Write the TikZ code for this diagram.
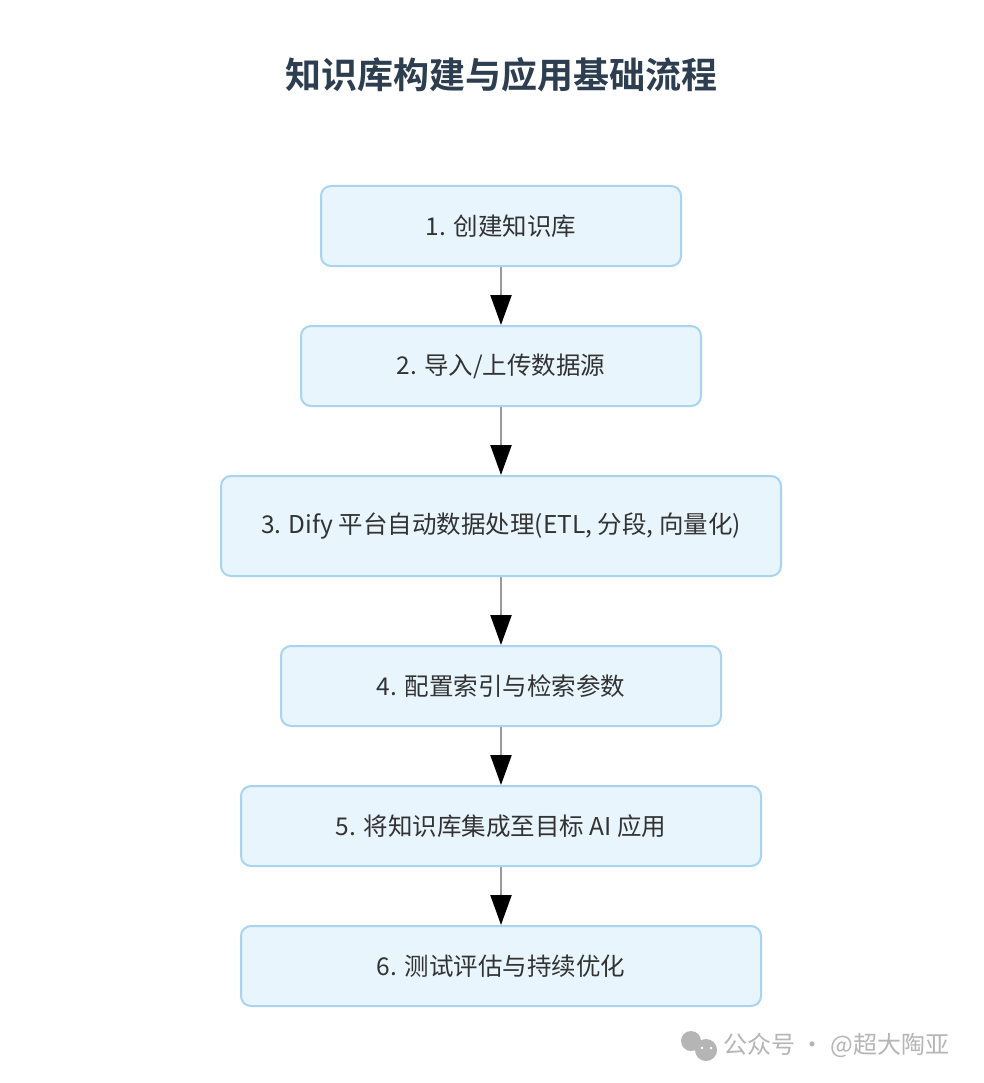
\documentclass[tikz,border=0pt]{standalone}
\usepackage{fontspec}
\setmainfont{Noto Sans CJK SC}
\newfontfamily\cjk{Noto Sans CJK SC}
\newfontfamily\cjkbold{Noto Sans CJK SC Bold}
\usetikzlibrary{arrows.meta}
\definecolor{boxfill}{HTML}{E8F5FD}
\definecolor{boxline}{HTML}{A8D4EF}
\definecolor{titlecol}{HTML}{2C3E50}
\definecolor{textcol}{HTML}{333333}
\definecolor{linkcol}{HTML}{999999}
\definecolor{wmcol}{HTML}{B5B5B5}
\tikzset{
  stepbox/.style={draw=boxline, fill=boxfill, line width=2pt, rounded corners=10pt,
    text=textcol, font=\cjk\fontsize{24.5}{28}\selectfont, inner sep=0pt, anchor=north},
  link/.style={draw=linkcol, line width=2.2pt,
    -{Triangle[length=30pt,width=21pt,color=black,fill=black]}, shorten >=0pt},
}
\begin{document}
\begin{tikzpicture}[x=1pt,y=-1pt]
\useasboundingbox[fill=white] (0,0) rectangle (983,1083);
\node[font=\cjkbold\fontsize{36}{42}\selectfont, text=titlecol] (title) at (501,75) {知识库构建与应用基础流程};

\node[stepbox, minimum width=360pt, minimum height=80pt] (s1) at (501,185) {1. 创建知识库};
\node[stepbox, minimum width=400pt, minimum height=80pt] (s2) at (501,325) {2. 导入/上传数据源};
\node[stepbox, minimum width=560pt, minimum height=100pt] (s3) at (501,475) {3. Dify 平台自动数据处理(ETL, 分段, 向量化)};
\node[stepbox, minimum width=440pt, minimum height=80pt] (s4) at (501,645) {4. 配置索引与检索参数};
\node[stepbox, minimum width=520pt, minimum height=80pt] (s5) at (501,785) {5. 将知识库集成至目标 AI 应用};
\node[stepbox, minimum width=520pt, minimum height=80pt] (s6) at (501,925) {6. 测试评估与持续优化};

\draw[link] (s1.south) -- (s2.north);
\draw[link] (s2.south) -- (s3.north);
\draw[link] (s3.south) -- (s4.north);
\draw[link] (s4.south) -- (s5.north);
\draw[link] (s5.south) -- (s6.north);

% watermark
\fill[wmcol] (691,1041) circle (10pt);
\fill[wmcol] (706,1050) circle (11pt);
\fill[white] (702,1048) circle (1.3pt) (711,1048) circle (1.3pt);
\node[anchor=west, text=wmcol, font=\cjk\fontsize{24}{28}\selectfont] (wm) at (720,1045) {公众号 · @超大陶亚};
\end{tikzpicture}
\end{document}
